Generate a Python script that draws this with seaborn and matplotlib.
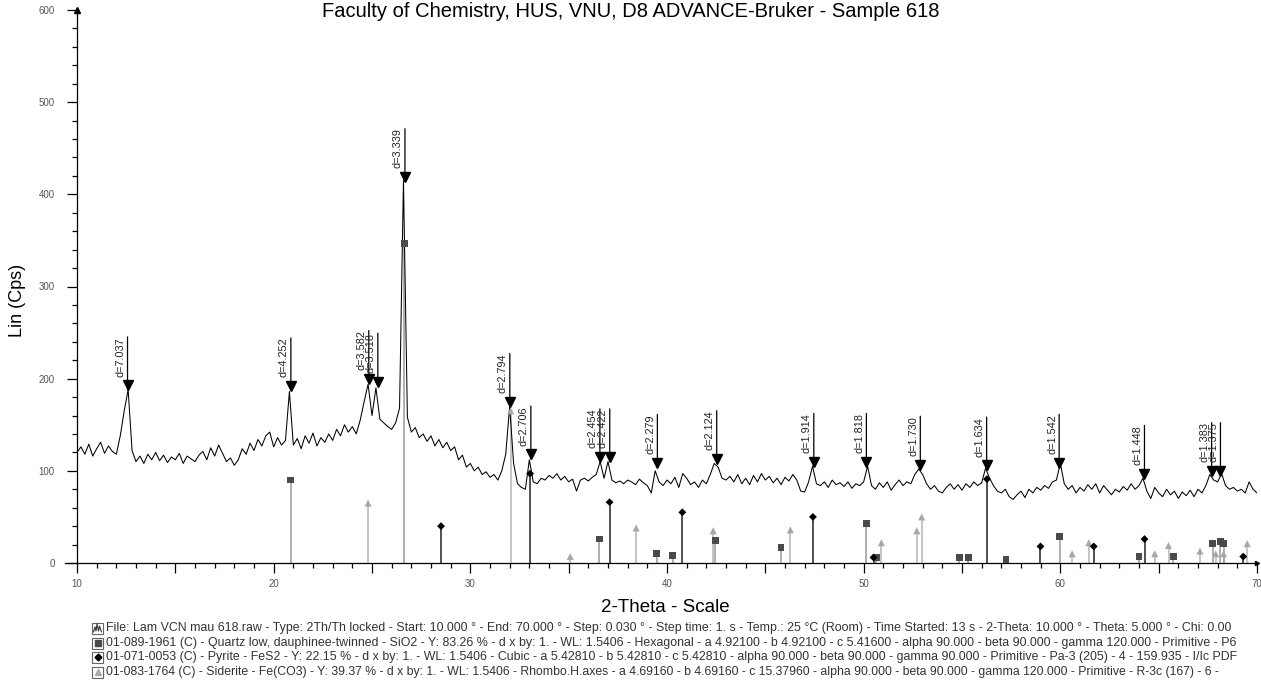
import numpy as np
import matplotlib.pyplot as plt
import matplotlib.transforms as mtransforms
from matplotlib.ticker import MultipleLocator, FuncFormatter
from matplotlib.lines import Line2D
from matplotlib.patches import Rectangle
import seaborn as sns

# ── DATA ──────────────────────────────────────────────────────────────────────
title = 'Faculty of Chemistry, HUS, VNU, D8 ADVANCE-Bruker - Sample 618'

# measured pattern, 2-theta from 10.0 to 70.0 in 0.2 deg steps
scan_start = 10.0
scan_step = 0.2
intensity = [
    120, 126, 118, 129, 116,   124, 131, 119, 127, 121,   118, 138, 165, 188, 122,
    110, 116, 108, 118, 112,   120, 111, 117, 109, 115,   112, 119, 108, 116, 113,
    110, 117, 121, 112, 125,   116, 128, 119, 110, 114,   106, 112, 124, 118, 130,
    122, 134, 127, 138, 142,   126, 136, 128, 133, 186,   128, 135, 124, 138, 130,
    141, 127, 136, 131, 140,   133, 145, 138, 150, 142,   148, 140, 155, 175, 194,
    160, 190, 156, 152, 148,   145, 152, 168, 415, 158,   142, 147, 136, 140, 132,
    138, 127, 134, 125, 131,   122, 126, 112, 117, 104,   108, 100, 104, 96, 99,
    93, 96, 90, 100, 118,      170, 108, 86, 82, 80,      112, 88, 86, 92, 90,
    95, 92, 97, 90, 94,        88, 91, 78, 90, 92,        89, 93, 96, 110, 92,
    110, 90, 87, 89, 86,       90, 88, 85, 91, 87,        84, 76, 100, 88, 84,
    90, 86, 93, 82, 97,        92, 85, 88, 82, 90,        86, 96, 108, 104, 92,
    90, 94, 88, 96, 86,        92, 85, 95, 88, 97,        90, 94, 87, 92, 85,
    93, 89, 96, 90, 78,        77, 88, 105, 86, 84,       88, 82, 90, 85, 87,
    83, 88, 81, 86, 84,        88, 105, 84, 80, 87,       82, 88, 79, 85, 90,
    84, 88, 86, 96, 102,       96, 86, 80, 84, 78,        76, 82, 86, 80, 85,
    79, 86, 82, 88, 84,        87, 103, 92, 84, 78,       76, 80, 72, 69, 74,
    78, 71, 80, 76, 82,        79, 84, 81, 88, 90,        108, 86, 80, 84, 76,
    82, 78, 85, 80, 86,        76, 84, 79, 74, 80,        77, 83, 79, 86, 80,
    84, 92, 78, 70, 82,        76, 72, 80, 74, 78,        70, 77, 73, 79, 72,
    80, 76, 84, 96, 90,        88, 97, 84, 80, 82,        78, 80, 76, 88, 80,
    76,
]

# peak search results (d-spacing, height of marker tip)
d_values = [7.037, 4.252, 3.582, 3.518, 3.339, 2.794, 2.706, 2.454, 2.422, 2.279,
            2.124, 1.914, 1.818, 1.730, 1.634, 1.542, 1.448, 1.383, 1.375]
d_heights = [188, 187, 195, 192, 414, 170, 113, 110, 110, 104,
             108, 105, 105, 102, 101, 104, 92, 95, 95]
wavelength = 1.5406

# reference patterns (stick positions in 2-theta, stick heights)
quartz_pos = [20.86, 26.64, 36.55, 39.47, 40.30, 42.45, 45.80, 50.14, 50.65, 54.87,
              55.33, 57.24, 59.96, 64.00, 65.75, 67.74, 68.14, 68.31]
quartz_h = [90, 347, 26, 10, 8, 24, 17, 43, 6, 6,
            6, 4, 29, 7, 7, 21, 23, 21]

pyrite_pos = [28.51, 33.04, 37.08, 40.78, 47.42, 50.50, 56.27, 58.99, 61.70, 64.28, 69.30]
pyrite_h = [40, 97, 66, 55, 50, 6, 91, 18, 18, 26, 7]

siderite_pos = [24.80, 32.05, 35.08, 38.43, 42.35, 46.27, 50.90, 52.70, 52.95, 60.60,
                61.45, 64.80, 65.50, 67.10, 67.90, 68.30, 69.50]
siderite_h = [65, 165, 7, 38, 35, 36, 22, 35, 50, 10,
              22, 10, 19, 13, 10, 10, 21]

legend_lines = [
    'File: Lam VCN mau 618.raw - Type: 2Th/Th locked - Start: 10.000 \u00b0 - End: 70.000 \u00b0 - Step: 0.030 \u00b0 - '
    'Step time: 1. s - Temp.: 25 \u00b0C (Room) - Time Started: 13 s - 2-Theta: 10.000 \u00b0 - Theta: 5.000 \u00b0 - Chi: 0.00',
    '01-089-1961 (C) - Quartz low, dauphinee-twinned - SiO2 - Y: 83.26 % - d x by: 1. - WL: 1.5406 - Hexagonal - '
    'a 4.92100 - b 4.92100 - c 5.41600 - alpha 90.000 - beta 90.000 - gamma 120.000 - Primitive - P6',
    '01-071-0053 (C) - Pyrite - FeS2 - Y: 22.15 % - d x by: 1. - WL: 1.5406 - Cubic - a 5.42810 - b 5.42810 - '
    'c 5.42810 - alpha 90.000 - beta 90.000 - gamma 90.000 - Primitive - Pa-3 (205) - 4 - 159.935 - I/Ic PDF',
    '01-083-1764 (C) - Siderite - Fe(CO3) - Y: 39.37 % - d x by: 1. - WL: 1.5406 - Rhombo.H.axes - a 4.69160 - '
    'b 4.69160 - c 15.37960 - alpha 90.000 - beta 90.000 - gamma 120.000 - Primitive - R-3c (167) - 6 -',
]

# ── STYLE ─────────────────────────────────────────────────────────────────────
sns.set_theme(style='ticks')
plt.rcParams['font.family'] = ['Liberation Sans', 'DejaVu Sans']

W, H = 1261, 686
fig = plt.figure(figsize=(W / 100, H / 100), dpi=100)
ax = fig.add_axes([77 / W, 123 / H, 1180 / W, 553 / H])

two_theta = scan_start + scan_step * np.arange(len(intensity))
d_two_theta = 2 * np.degrees(np.arcsin(wavelength / (2 * np.array(d_values))))

quartz_col, quartz_stick = '#4a4a4a', '#9a9a9a'
pyrite_col = '#000000'
siderite_col, siderite_stick = '#a8a8a8', '#b4b4b4'

# ── REFERENCE STICKS ──────────────────────────────────────────────────────────
ax.vlines(siderite_pos, 0, siderite_h, color=siderite_stick, lw=1.1, zorder=2)
ax.vlines(quartz_pos, 0, quartz_h, color=quartz_stick, lw=1.1, zorder=2)
ax.vlines(pyrite_pos, 0, pyrite_h, color='#222222', lw=1.1, zorder=2)

sns.scatterplot(x=siderite_pos, y=siderite_h, marker='^', s=26, color=siderite_col,
                edgecolor='none', ax=ax, zorder=4)
sns.scatterplot(x=quartz_pos, y=quartz_h, marker='s', s=24, color=quartz_col,
                edgecolor='none', ax=ax, zorder=4)
sns.scatterplot(x=pyrite_pos, y=pyrite_h, marker='D', s=16, color=pyrite_col,
                edgecolor='none', ax=ax, zorder=4)

# ── MEASURED PATTERN ──────────────────────────────────────────────────────────
sns.lineplot(x=two_theta, y=intensity, color='black', lw=0.75, estimator=None,
             ax=ax, zorder=3)

# ── PEAK LABELS ───────────────────────────────────────────────────────────────
tip = mtransforms.offset_copy(ax.transData, fig=fig, y=3.2, units='points')
for pos, h, d in zip(d_two_theta, d_heights, d_values):
    ax.plot([pos], [h], marker='v', ms=6.5, color='black', transform=tip,
            zorder=5, clip_on=False)
    ax.annotate('', xy=(pos, h), xytext=(0, 38), textcoords='offset points',
                arrowprops=dict(arrowstyle='-', lw=0.9, color='black',
                                shrinkA=0, shrinkB=0))
    ax.annotate(f'd={d:.3f}', xy=(pos, h), xytext=(-1.5, 9.5),
                textcoords='offset points', rotation=90, ha='right', va='bottom',
                fontsize=7.8, color='#222222')

# ── AXES ──────────────────────────────────────────────────────────────────────
ax.set_xlim(10, 70)
ax.set_ylim(0, 600)
ax.set_facecolor('white')
for s in ('top', 'right'):
    ax.spines[s].set_visible(False)
for s in ('left', 'bottom'):
    ax.spines[s].set_linewidth(0.9)
    ax.spines[s].set_color('black')
ax.spines['bottom'].set_bounds(9.4, 70)

ax.xaxis.set_major_locator(MultipleLocator(5))
ax.xaxis.set_minor_locator(MultipleLocator(1))
ax.xaxis.set_major_formatter(FuncFormatter(lambda v, p: f'{v:.0f}' if v % 10 == 0 else ''))
ax.yaxis.set_major_locator(MultipleLocator(100))
ax.yaxis.set_minor_locator(MultipleLocator(20))

ax.tick_params(axis='both', which='major', direction='out', length=7, width=0.9,
               color='black', labelsize=7, labelcolor='#555555')
ax.tick_params(axis='both', which='minor', direction='out', length=3.5, width=0.9,
               color='black')
ax.tick_params(axis='x', which='major', pad=4.5)
ax.tick_params(axis='y', which='major', pad=9)
ax.set_xlabel('')
ax.set_ylabel('')

ax.plot([0], [1], marker='^', ms=4, color='black', transform=ax.transAxes, clip_on=False)
ax.plot([1], [0], marker='>', ms=3, color='black', transform=ax.transAxes, clip_on=False)

# ── TEXTS ─────────────────────────────────────────────────────────────────────
fig.text(631 / W, 1 - 2 / H, title, ha='center', va='top', fontsize=14.5, color='black')
fig.text(18 / W, 1 - 300 / H, 'Lin (Cps)', rotation=90, ha='center', va='center',
         fontsize=13, color='black')
fig.text(665 / W, 1 - 607 / H, '2-Theta - Scale', ha='center', va='center',
         fontsize=13.5, color='black')

# ── LEGEND BLOCK ──────────────────────────────────────────────────────────────
row_y = [628, 643, 657, 672]
icon_x0, icon_size = 92, 11
text_x0 = 106
text_x1 = [1238, 1240, 1240, 1232]

renderer = fig.canvas.get_renderer()
for i, (line, yc) in enumerate(zip(legend_lines, row_y)):
    box = Rectangle(((icon_x0) / W, 1 - (yc + icon_size / 2) / H), icon_size / W, icon_size / H,
                    transform=fig.transFigure, facecolor='white', edgecolor='#666666', lw=0.8)
    fig.add_artist(box)
    cx, cy = (icon_x0 + icon_size / 2) / W, 1 - yc / H
    if i == 0:
        wx = np.array([1.5, 3, 4, 5, 6.5, 7.5, 9.5]) + icon_x0
        wy = yc + np.array([4, -1, 3, -4, 3, -2, 4])
        fig.add_artist(Line2D(wx / W, 1 - wy / H, transform=fig.transFigure, color='#333333', lw=0.8))
    elif i == 1:
        fig.add_artist(Line2D([cx], [cy], marker='s', ms=5, color=quartz_col, transform=fig.transFigure))
    elif i == 2:
        fig.add_artist(Line2D([cx], [cy], marker='D', ms=3.5, color=pyrite_col, transform=fig.transFigure))
    else:
        fig.add_artist(Line2D([cx], [cy], marker='^', ms=5, color=siderite_col, transform=fig.transFigure))
    t = fig.text(text_x0 / W, 1 - yc / H, line, ha='left', va='center', fontsize=8, color='#333333')
    w = t.get_window_extent(renderer).width
    t.set_fontsize(8 * (text_x1[i] - text_x0) / w)

fig.savefig('out.png', dpi=100)
